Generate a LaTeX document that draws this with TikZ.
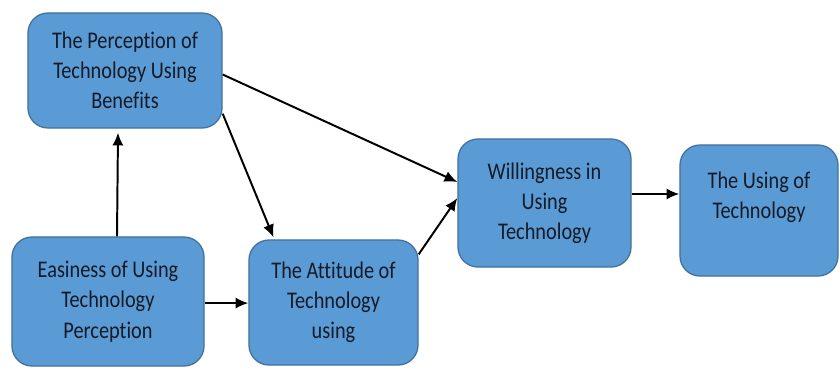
\documentclass[tikz,border=0pt]{standalone}
\usepackage{fontspec}
\usepackage{xcolor}
\usetikzlibrary{arrows.meta,positioning,calc}
\newfontfamily\boxfont[FakeStretch=0.85,Ligatures=NoCommon]{Carlito}
\definecolor{boxfill}{HTML}{5B9BD5}
\definecolor{boxline}{HTML}{41719C}
\definecolor{boxtext}{HTML}{141A26}
\tikzset{%
	factor/.style = {draw=boxline, fill=boxfill, line width=0.9pt, rounded corners=0.5cm, align=center, text=boxtext, font=\boxfont\fontsize{17}{21.5}\selectfont, inner sep=2pt},
	link/.style   = {line width=1.4pt, -{Latex[length=3.2mm,width=2.8mm]}},
}
\begin{document}
\begin{tikzpicture}[x=0.025cm,y=-0.025cm]
	\useasboundingbox (0,0) rectangle (840,369);
	% the five factors
	\node [factor, minimum width=4.85cm, minimum height=2.875cm] (perc) at (125,70.5) {The Perception of\\Technology Using\\Benefits};
	\node [factor, minimum width=4.8cm, minimum height=3.225cm] (easy) at (108,301.5) {Easiness of Using\\Technology\\Perception};
	\node [factor, minimum width=4.225cm, minimum height=3.125cm] (att) at (333.5,302.5) {The Attitude of\\Technology\\using};
	\node [factor, minimum width=4.325cm, minimum height=3.2cm] (will) at (544.5,203) {Willingness in\\Using\\Technology};
	\node [factor, minimum width=3.95cm, minimum height=3.275cm] (use) at (759,210.5) {The Using of\\Technology\\\mbox{}};
	
	% relations
	\draw[link] ([xshift=0.225cm]easy.north) -- ([xshift=-0.175cm,yshift=-0.1cm]perc.south);
	\draw[link] ([yshift=-0.1cm]perc.east) -- ([yshift=0.525cm]will.west);
	\draw[link] ([yshift=0.375cm]perc.south east) -- ([xshift=-1.5cm,yshift=0.05cm]att.north);
	\draw[link] ([yshift=-0.04cm]easy.east) -- ([yshift=-0.04cm]easy.east -| att.west);
	\draw[link] ([yshift=-0.375cm]att.north east) -- ([yshift=0.125cm]will.west);
	\draw[link] ([yshift=0.225cm]will.east) -- ([yshift=0.225cm]will.east -| use.west);
\end{tikzpicture}
\end{document}
